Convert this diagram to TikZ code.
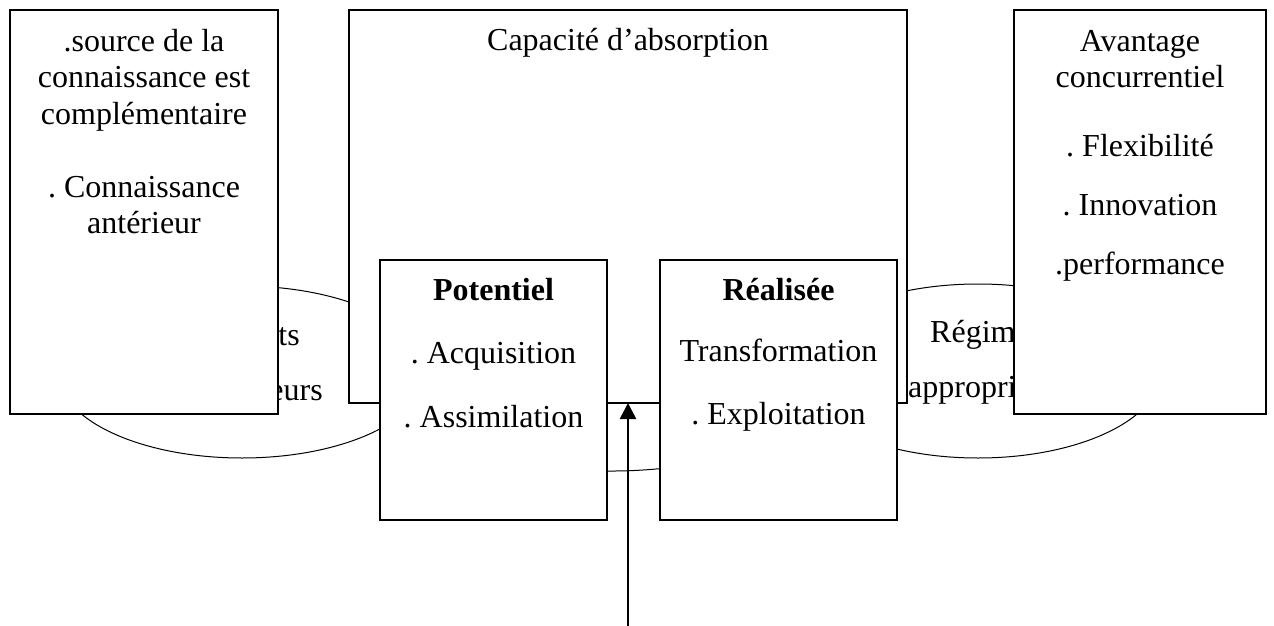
\documentclass[tikz,border=0pt]{standalone}
\usepackage{fontspec}
\setmainfont{Liberation Serif}
\usetikzlibrary{arrows.meta,shapes.geometric}
\frenchspacing
\begin{document}
\begin{tikzpicture}[x=1pt,y=-1pt,
  box/.style={draw, line width=2pt, fill=white, inner sep=0pt, outer sep=0pt},
  ring/.style={draw, ellipse, line width=1pt, inner sep=0pt, outer sep=0pt},
  txt/.style={font=\fontsize{32}{36}\selectfont, inner sep=0pt, anchor=base},
  btxt/.style={txt, font=\fontsize{32}{36}\selectfont\bfseries},
  thinline/.style={line width=1pt},
  arr/.style={line width=2.6pt, -{Triangle[length=16pt,width=16pt]}}]
\fill[white] (0,0) rectangle (1274,626);
\useasboundingbox (0,0) rectangle (1274,626);

% rings lying behind the boxes
\node[ring, minimum width=368pt, minimum height=172pt] (lring) at (242,372) {};
\node[ring, minimum width=366pt, minimum height=174pt] (rring) at (978,371) {};
\coordinate (ma) at (600,471);
\coordinate (mb) at (667,468);
\draw[thinline] (ma) to[bend right=3] (mb);

% ring labels, partly covered by the boxes
\node[txt, anchor=base east] (lr1) at (300,345) {ts};
\node[txt, anchor=base east] (lr2) at (323,400) {eurs};
\node[txt, anchor=base west] (rr1) at (930,342) {Régim};
\node[txt, anchor=base west] (rr2) at (908,397) {appropri};

% boxes
\node[box, minimum width=268pt, minimum height=404pt] (src) at (144,212) {};
\node[box, minimum width=558pt, minimum height=393pt] (cap) at (628,206.5) {};
\node[box, minimum width=252pt, minimum height=404pt] (adv) at (1140,212) {};
\node[box, minimum width=227pt, minimum height=260pt] (pot) at (493.5,390) {};
\node[box, minimum width=237pt, minimum height=260pt] (real) at (778.5,390) {};

% left box text
\node[txt] (s1) at (144,52) {.source de la};
\node[txt] (s2) at (144,88) {connaissance est};
\node[txt] (s3) at (144,124) {complémentaire};
\node[txt] (s4) at (144,197) {. Connaissance};
\node[txt] (s5) at (144,233) {antérieur};

% centre box title
\node[txt] (c1) at (628,51) {Capacité d’absorption};

% right box text
\node[txt] (a1) at (1140,52) {Avantage};
\node[txt] (a2) at (1140,88) {concurrentiel};
\node[txt] (a3) at (1140,156) {. Flexibilité};
\node[txt] (a4) at (1140,215) {. Innovation};
\node[txt] (a5) at (1140,274) {.performance};

% inner boxes text
\node[btxt] (p1) at (493.5,300) {Potentiel};
\node[txt] (p2) at (493.5,363) {. Acquisition};
\node[txt] (p3) at (493.5,427) {. Assimilation};
\node[btxt] (q1) at (778.5,300) {Réalisée};
\node[txt] (q2) at (778.5,361) {Transformation};
\node[txt] (q3) at (778.5,424) {. Exploitation};

% arrow pointing up at the centre box
\coordinate (foot) at (628,626);
\draw[arr] (foot) -- (cap.south);
\end{tikzpicture}
\end{document}
